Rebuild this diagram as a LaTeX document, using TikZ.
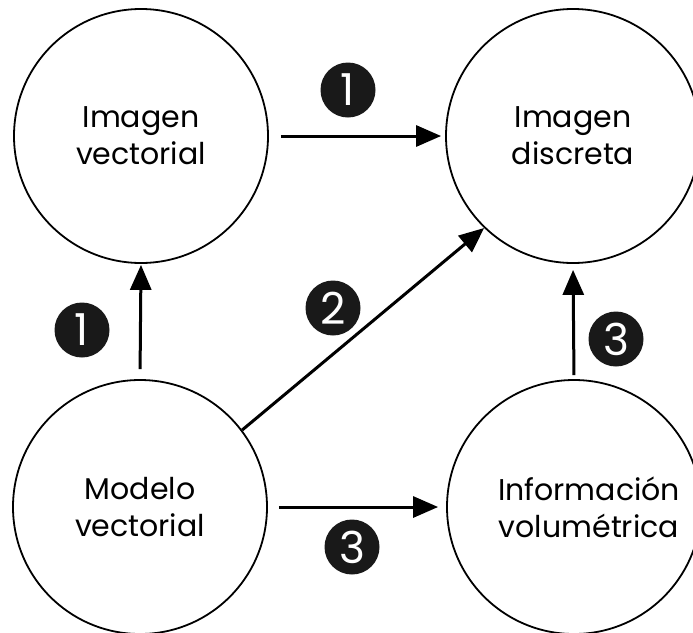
\documentclass[tikz,border=0pt]{standalone}
\usepackage{fontspec}
\setmainfont{Poppins}
\usetikzlibrary{arrows.meta}
\begin{document}
\begin{tikzpicture}[x=1pt,y=-1pt,
  bubble/.style={draw=black,line width=1.8pt,circle,minimum size=254pt,inner sep=0pt,
    align=center,font=\fontsize{30}{37}\selectfont,text=black},
  badge/.style={fill=black!90,circle,minimum size=55pt,inner sep=0pt,
    text=white,font=\fontsize{44}{44}\selectfont},
  conn/.style={line width=3pt,-{Triangle[length=25pt,width=21pt]}}]
\clip (0,0) rectangle (693,632);
\useasboundingbox (0,0) rectangle (693,632);
\node[bubble] (iv) at (141,136) {Imagen\\vectorial};
\node[bubble] (id) at (573,136) {Imagen\\discreta};
\node[bubble] (mv) at (140,507) {Modelo\\vectorial};
\node[bubble] (inf) at (574,507) {\hspace*{30pt}Información\\\hspace*{30pt}volumétrica};
\node[badge] (b1a) at (348,90) {1};
\node[badge] (b1b) at (82,330) {1};
\node[badge] (b2) at (333,308) {2};
\node[badge] (b3a) at (352,547) {3};
\node[badge] (b3b) at (616,339) {3};
\draw[conn,shorten <=12pt,shorten >=4pt] (iv.east) -- (id.west);
\draw[conn,shorten <=10pt,shorten >=1pt] (mv.north) -- (iv.south);
\draw[conn] (mv.37.5) -- (id.226);
\draw[conn,shorten <=11pt,shorten >=8pt] (mv.east) -- (inf.west);
\draw[conn,shorten <=4pt,shorten >=6pt] (inf.north) -- (id.south);
\end{tikzpicture}
\end{document}
